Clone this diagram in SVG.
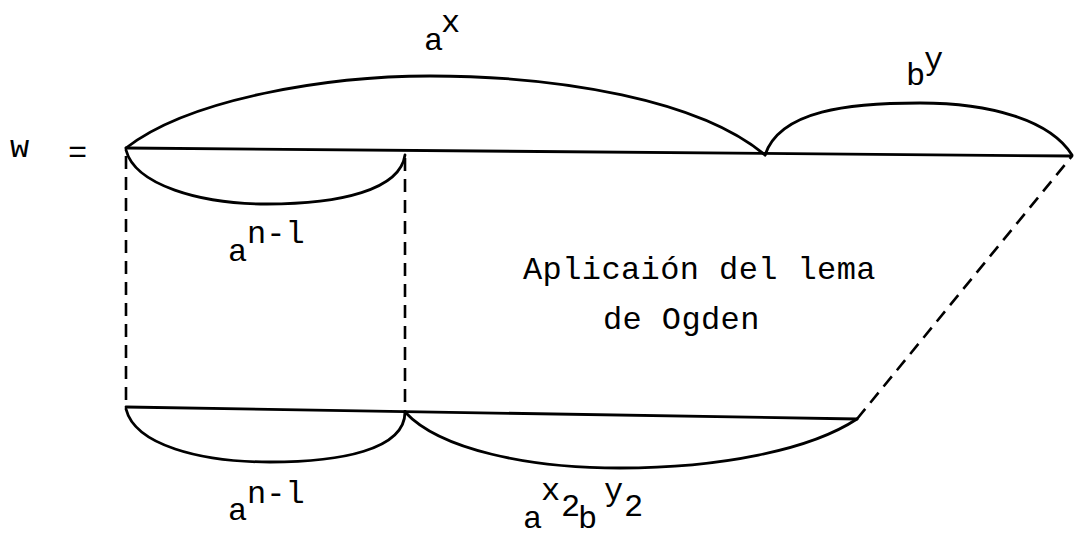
<svg xmlns="http://www.w3.org/2000/svg" width="1074" height="538" viewBox="0 0 1074 538">
<style>
.s{fill:none;stroke:#000;stroke-width:2.8;stroke-linecap:round}
.d{fill:none;stroke:#000;stroke-width:2.6;stroke-dasharray:13 8}
text{font-family:"Liberation Mono","DejaVu Sans Mono",monospace;font-size:32px;fill:#000}
</style>
<rect width="1074" height="538" fill="#fff"/>
<g id="connectors">
<path class="s" d="M126,148 L1072,156"/>
<path class="s" d="M126,148 C190,98 330,76 430,76 C560,76 700,100 765,155"/>
<path class="s" d="M765,155 C780,110 850,103 920,103 C990,103 1050,120 1072,155"/>
<path class="s" d="M126,150 C135,185 200,204 267,204 C340,204 400,190 405,155"/>
<path class="d" d="M126,156 L126,407"/>
<path class="d" d="M405,158 L405,411"/>
<path class="s" d="M126,407 L857,419"/>
<path class="s" d="M126,409 C135,445 200,462 270,462 C340,462 405,450 405,412"/>
<path class="s" d="M405,412 C440,450 530,468 620,468 C720,468 810,450 857,419"/>
<path class="d" d="M857,419 L1072,156"/>
</g>
<g id="w-label"><text x="10" y="157">w</text><text x="68" y="162">=</text></g>
<g id="ax"><text x="424" y="50">a</text><text x="441" y="32">x</text></g>
<g id="by"><text x="906" y="85">b</text><text x="924" y="69">y</text></g>
<g id="an1-top"><text x="228" y="261">a</text><text x="247" y="243">n-l</text></g>
<g id="an1-bottom"><text x="228" y="520">a</text><text x="247" y="503">n-l</text></g>
<g id="ax2by2"><text x="523" y="528">a</text><text x="541" y="500">x</text><text x="561" y="516">2</text><text x="578" y="528">b</text><text x="604" y="500">y</text><text x="624" y="516">2</text></g>
<g id="ogden"><text x="523" y="279" letter-spacing="0.4">Aplicaión del lema</text><text x="603" y="329" letter-spacing="0.4">de Ogden</text></g>
</svg>
